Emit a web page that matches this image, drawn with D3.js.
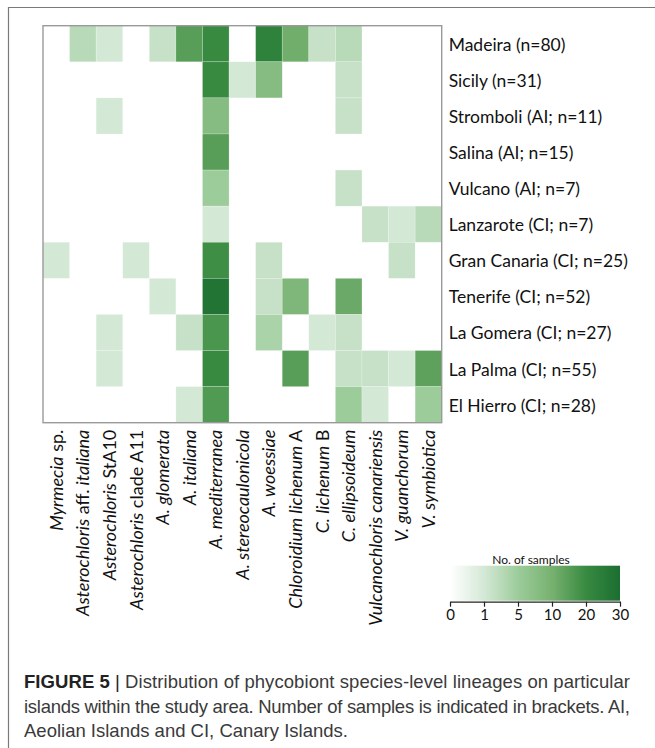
<!DOCTYPE html>
<html>
<head>
<meta charset="utf-8">
<script src="https://cdn.jsdelivr.net/npm/d3@7"></script>
<style>
  html, body { margin: 0; padding: 0; background: #fff; }
  svg { display: block; }
</style>
</head>
<body>
<svg id="chart" width="655" height="748"></svg>
<script>
// Phycobiont lineages (columns)
const species = [
  "Myrmecia sp.", "Asterochloris aff. italiana", "Asterochloris StA10",
  "Asterochloris clade A11", "A. glomerata", "A. italiana", "A. mediterranea",
  "A. stereocaulonicola", "A. woessiae", "Chloroidium lichenum A",
  "C. lichenum B", "C. ellipsoideum", "Vulcanochloris canariensis",
  "V. guanchorum", "V. symbiotica"
];

// Islands (rows)
const islands = [
  "Madeira (n=80)", "Sicily (n=31)", "Stromboli (AI; n=11)", "Salina (AI; n=15)",
  "Vulcano (AI; n=7)", "Lanzarote (CI; n=7)", "Gran Canaria (CI; n=25)",
  "Tenerife (CI; n=52)", "La Gomera (CI; n=27)", "La Palma (CI; n=55)",
  "El Hierro (CI; n=28)"
];

// Number of samples per island (row) and lineage (column)
const counts = [
  [0, 3, 1, 0, 2, 15, 20, 0, 23, 11, 2, 3, 0, 0, 0],
  [0, 0, 0, 0, 0, 0, 20, 1, 8, 0, 0, 2, 0, 0, 0],
  [0, 0, 1, 0, 0, 0, 8, 0, 0, 0, 0, 2, 0, 0, 0],
  [0, 0, 0, 0, 0, 0, 15, 0, 0, 0, 0, 0, 0, 0, 0],
  [0, 0, 0, 0, 0, 0, 5, 0, 0, 0, 0, 2, 0, 0, 0],
  [0, 0, 0, 0, 0, 0, 1, 0, 0, 0, 0, 0, 2, 1, 3],
  [1, 0, 0, 1, 0, 0, 19, 0, 2, 0, 0, 0, 0, 2, 0],
  [0, 0, 0, 0, 1, 0, 28, 0, 2, 9, 0, 12, 0, 0, 0],
  [0, 0, 1, 0, 0, 2, 17, 0, 4, 0, 1, 2, 0, 0, 0],
  [0, 0, 1, 0, 0, 0, 20, 0, 0, 15, 0, 2, 2, 1, 14],
  [0, 0, 0, 0, 0, 1, 16, 0, 0, 0, 0, 5, 1, 0, 5]
];

// Colour key
const legendTicks = [0, 1, 5, 10, 20, 30];
const legendColors = ["#ffffff", "#d4e8d6", "#9dcc9b", "#77b170", "#388a41", "#1b6e31"];

const captionLines = [
  ["FIGURE 5", " | ", "Distribution of phycobiont species-level lineages on particular"],
  ["", "", "islands within the study area. Number of samples is indicated in brackets. AI,"],
  ["", "", "Aeolian Islands and CI, Canary Islands."]
];

// Words kept upright inside the italic taxon names
const uprightTokens = new Set(["sp.", "aff.", "StA10", "clade", "A11", "A", "B"]);

const svg = d3.select("#chart");
const labelFont = "Lato, 'Open Sans', sans-serif";

// Page frame
svg.append("path")
  .attr("d", "M8.5,748 L8.5,7.5 L655,7.5")
  .attr("fill", "none")
  .attr("stroke", "#7a7a7a")
  .attr("stroke-width", 1.2);

const plot = { left: 43, right: 441.7, top: 25.7, bottom: 422.7 };

const x = d3.scaleBand().domain(d3.range(species.length)).range([plot.left, plot.right]);
const y = d3.scaleBand().domain(d3.range(islands.length)).range([plot.top, plot.bottom]);
const color = d3.scaleLinear().domain(legendTicks).range(legendColors).interpolate(d3.interpolateRgb).clamp(true);

const cells = [];
counts.forEach((row, i) => row.forEach((v, j) => { if (v > 0) cells.push({ i, j, v }); }));

svg.append("g").selectAll("rect")
  .data(cells)
  .join("rect")
  .attr("x", d => x(d.j))
  .attr("y", d => y(d.i))
  .attr("width", x.bandwidth())
  .attr("height", y.bandwidth())
  .attr("fill", d => color(d.v))
  .attr("stroke", "#ffffff")
  .attr("stroke-opacity", 0.35)
  .attr("stroke-width", 0.6);

// Plot border
svg.append("rect")
  .attr("x", plot.left).attr("y", plot.top)
  .attr("width", plot.right - plot.left).attr("height", plot.bottom - plot.top)
  .attr("fill", "none")
  .attr("stroke", "#9a9a9a")
  .attr("stroke-width", 1.4);

// Island labels on the right
svg.append("g").selectAll("text")
  .data(islands)
  .join("text")
  .attr("x", plot.right + 7)
  .attr("y", (d, i) => y(i) + y.bandwidth() / 2 + 7)
  .attr("font-family", labelFont)
  .attr("font-size", 17.5)
  .attr("fill", "#111")
  .text(d => d);

// Lineage labels below, rotated
const colLabels = svg.append("g").selectAll("text")
  .data(species)
  .join("text")
  .attr("transform", (d, j) => `translate(${x(j) + x.bandwidth() / 2 + 6.5},${plot.bottom + 7}) rotate(-90)`)
  .attr("text-anchor", "end")
  .attr("font-family", labelFont)
  .attr("font-size", 18)
  .attr("fill", "#111");

colLabels.each(function (d) {
  const t = d3.select(this);
  d.split(" ").forEach((w, k) => {
    t.append("tspan")
      .attr("font-style", uprightTokens.has(w) ? "normal" : "italic")
      .text((k > 0 ? " " : "") + w);
  });
});

// Colour legend
const lg = { x0: 450, x1: 620, top: 565.7, bottom: 600.7 };
const legendPos = d3.scaleLinear()
  .domain(legendTicks)
  .range(legendTicks.map((d, k) => lg.x0 + k * (lg.x1 - lg.x0) / (legendTicks.length - 1)));

const defs = svg.append("defs");
const grad = defs.append("linearGradient").attr("id", "legend-grad");
d3.range(0, 1.0001, 0.02).forEach(t => {
  const v = legendPos.invert(lg.x0 + t * (lg.x1 - lg.x0));
  grad.append("stop").attr("offset", t).attr("stop-color", color(v));
});

svg.append("rect")
  .attr("x", lg.x0).attr("y", lg.top)
  .attr("width", lg.x1 - lg.x0).attr("height", lg.bottom - lg.top)
  .attr("fill", "url(#legend-grad)");

svg.append("text")
  .attr("x", (lg.x0 + lg.x1) / 2 - 4)
  .attr("y", lg.top - 2)
  .attr("text-anchor", "middle")
  .attr("font-family", labelFont)
  .attr("font-size", 12)
  .attr("fill", "#111")
  .text("No. of samples");

const legendAxis = svg.append("g")
  .attr("transform", `translate(0,${lg.bottom + 1})`)
  .call(d3.axisBottom(legendPos).tickValues(legendTicks).tickFormat(d3.format("d")).tickSize(5).tickSizeOuter(0));
legendAxis.select(".domain").attr("stroke", "#222").attr("stroke-width", 1.2);
legendAxis.selectAll(".tick line").attr("stroke", "#222").attr("stroke-width", 1.2);
legendAxis.selectAll("text")
  .attr("font-family", labelFont)
  .attr("font-size", 15)
  .attr("fill", "#111")
  .attr("y", 7)
  .attr("dy", "0.75em");

// Caption (justified lines)
const cap = svg.append("g");
captionLines.forEach((parts, k) => {
  const t = cap.append("text")
    .attr("x", 24)
    .attr("y", 688 + k * 24.5)
    .attr("font-family", "'Liberation Sans', Arial, sans-serif")
    .attr("font-size", 18.5)
    .attr("fill", "#3a3a3a");
  if (k < captionLines.length - 1) t.attr("textLength", 606).attr("lengthAdjust", "spacing");
  if (parts[0]) t.append("tspan").attr("font-weight", "bold").attr("fill", "#222").text(parts[0]);
  if (parts[1]) t.append("tspan").attr("fill", "#222").text(parts[1]);
  t.append("tspan").text(parts[2]);
});
</script>
</body>
</html>
